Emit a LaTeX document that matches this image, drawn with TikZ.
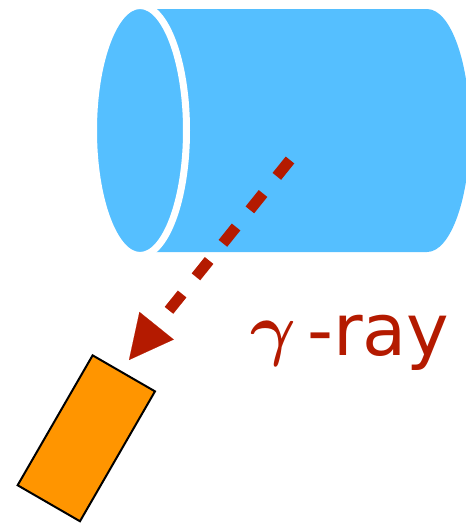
\RequirePackage{fix-cm}
\documentclass[tikz,border=0pt]{standalone}
\usepackage{amsmath}
\usepackage{fontspec}
\usetikzlibrary{arrows.meta}
\newfontfamily\rayfont{DejaVu Sans}
\definecolor{cylblue}{HTML}{55BFFF}
\definecolor{rayred}{HTML}{B41A00}
\definecolor{detorange}{HTML}{FF9500}
\tikzset{
  cylbody/.style={fill=cylblue, draw=none},
  cylface/.style={fill=cylblue, draw=white, line width=7pt},
  raypath/.style={rayred, line width=11pt, dash pattern=on 21pt off 22pt,
    -{Triangle[length=44pt,width=44pt,line width=0.1pt]}},
  detector/.style={draw=black, fill=detorange, line width=2pt, minimum width=72pt,
    minimum height=150pt, inner sep=0pt, rotate=-30},
  lbl/.style={text=rayred, inner sep=0pt, anchor=base west}
}
\begin{document}
\begin{tikzpicture}[x=1pt, y=-1pt]
\useasboundingbox (0,0) rectangle (466,523);
% cylinder body
\fill[cylbody] (140,9) -- (427,9) arc[start angle=-90, end angle=90, x radius=43, y radius=121.5]
  -- (140,252) -- cycle;
% front face
\draw[cylface] (140,130.5) ellipse [x radius=46.5, y radius=125];
% gamma ray
\coordinate (src) at (290,160);
\coordinate (tip) at (129,360);
\draw[raypath] (src) -- (tip);
% detector
\node[detector] (det) at (86.3,438.3) {};
% label
\node[lbl] (gam) at (250,352) {\fontsize{70}{76}\selectfont$\boldsymbol{\gamma}$};
\node[lbl] (ray) at (307,355) {\fontsize{72}{80}\selectfont\rayfont -ray};
\end{tikzpicture}
\end{document}
